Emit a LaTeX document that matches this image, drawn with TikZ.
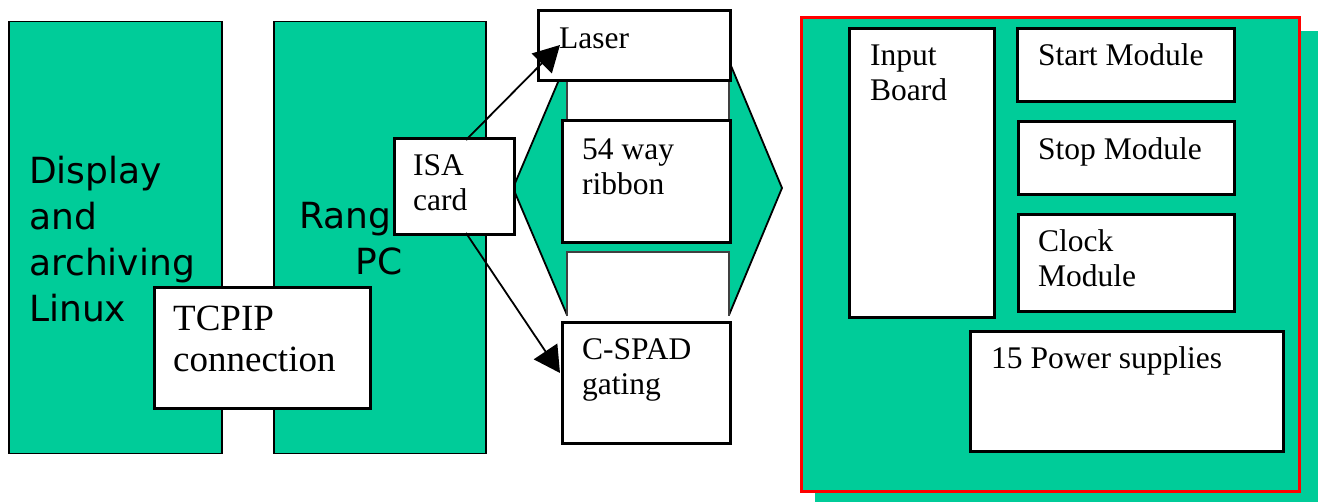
\documentclass[tikz,border=0pt]{standalone}
\usepackage{fontspec}
\setmainfont{Liberation Serif}
\newfontfamily\vsans{DejaVu Sans}
\usetikzlibrary{arrows.meta,calc}
\definecolor{pgreen}{RGB}{0,204,153}
\begin{document}
\begin{tikzpicture}[x=1pt,y=-1pt,
  gbox/.style={draw=black, line width=1.5pt, fill=pgreen, inner sep=0pt, anchor=north west},
  wbox/.style={draw=black, line width=3pt, fill=white, inner sep=0pt, anchor=north west},
  txt/.style={inner sep=0pt, anchor=base west, font=\fontsize{31.5}{35}\selectfont},
  bigtxt/.style={inner sep=0pt, anchor=base west, font=\fontsize{37}{41}\selectfont},
  sanstxt/.style={inner sep=0pt, font=\vsans\fontsize{36}{46}\selectfont},
  ribline/.style={draw=black!75, line width=1.3pt},
  conn/.style={line width=1.8pt, -{Triangle[length=26pt,width=28pt]}},
  ]
\useasboundingbox (0,0) rectangle (1318,502);
% left computers
\node[gbox, minimum width=213pt, minimum height=432pt] (disp) at (8,21) {};
\node[sanstxt, anchor=base west] (disp-t) at (29,184) {\vtop{\hbox{Display}\hbox{and}\hbox{archiving}\hbox{Linux}}};
\node[gbox, minimum width=212pt, minimum height=432pt] (rpc) at (273,21) {};
\node[sanstxt, anchor=base] (rpc-t) at (379,229) {\vtop{\halign{\hfil#\hfil\cr Ranging\ \cr PC\cr}}};
\node[wbox, minimum width=216pt, minimum height=121pt] (tcp) at (153,286) {};
\node[bigtxt] (tcp-t) at (173,331) {\vtop{\hbox{TCPIP}\hbox{connection}}};
% ribbon hexagon
\draw[line width=1.8pt, fill=pgreen] (513,188) -- (567,61) -- (729,61) -- (782,188) -- (729,315) -- (567,315) -- cycle;
\fill[white] (567,60) rectangle (729,125);
\draw[ribline] (567,60) -- (567,125) (729,60) -- (729,125);
\fill[white] (567,252) rectangle (729,317);
\draw[ribline] (567,316.5) -- (567,252) -- (729,252) -- (729,316.5);
\node[wbox, minimum width=192pt, minimum height=70pt] (laser) at (537,9) {};
\node[txt] (laser-t) at (559,49) {Laser};
\node[wbox, minimum width=168pt, minimum height=122pt] (rib) at (561,119) {};
\node[txt] (rib-t) at (582,160) {\vtop{\hbox{54 way}\hbox{ribbon}}};
\node[wbox, minimum width=168pt, minimum height=121pt] (cspad) at (561,321) {};
\node[txt] (cspad-t) at (582,360) {\vtop{\hbox{C-SPAD}\hbox{gating}}};
\node[wbox, minimum width=120pt, minimum height=96pt] (isa) at (393,137) {};
\node[txt] (isa-t) at (413,176) {\vtop{\hbox{ISA}\hbox{card}}};
% connectors
\draw[conn] ($(isa.north west)+(73,3)$) -- ($(laser.north west)+(23,36)$);
\draw[conn] ($(isa.south west)+(73,-3)$) -- ($(cspad.north west)+(-1,52)$);
% right panel
\fill[pgreen] (815,31) rectangle (1330,510);
\node[draw=red, line width=3pt, fill=pgreen, anchor=north west, minimum width=498pt, minimum height=474pt, inner sep=0pt] (panel) at (800,16) {};
\node[wbox, minimum width=145pt, minimum height=289pt] (inb) at (848,27) {};
\node[txt] (inb-t) at (870,66) {\vtop{\hbox{Input}\hbox{Board}}};
\node[wbox, minimum width=217pt, minimum height=73pt] (start) at (1016,27) {};
\node[txt] (start-t) at (1038,66) {Start Module};
\node[wbox, minimum width=216pt, minimum height=73pt] (stop) at (1017,120) {};
\node[txt] (stop-t) at (1038,160) {Stop Module};
\node[wbox, minimum width=216pt, minimum height=97pt] (clock) at (1017,213) {};
\node[txt] (clock-t) at (1038,252) {\vtop{\hbox{Clock}\hbox{Module}}};
\node[wbox, minimum width=313pt, minimum height=120pt] (power) at (969,330) {};
\node[txt] (power-t) at (991,369) {15 Power supplies};
\end{tikzpicture}
\end{document}
